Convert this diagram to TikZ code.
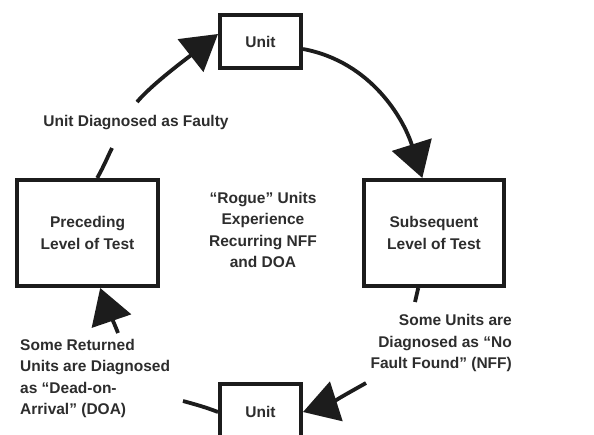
\documentclass[tikz,border=0pt]{standalone}
\usepackage{fontspec}
\setmainfont{Liberation Sans}
\usetikzlibrary{arrows.meta}
\definecolor{ink}{RGB}{28,28,28}
\definecolor{txt}{RGB}{45,45,45}
\begin{document}
\begin{tikzpicture}[x=1pt,y=-1pt,
  lab/.style={font=\bfseries\fontsize{15.5}{21.5}\selectfont, text=txt, inner sep=0pt},
  boxnode/.style={draw=ink, line width=4pt, fill=white, lab, align=center},
  link/.style={draw=ink, line width=3.8pt},
  arr/.style={link, -{Triangle[length=35pt,width=41pt]}}]
\useasboundingbox[fill=white] (0,0) rectangle (594,434);
% boxes
\node[boxnode, minimum width=81pt, minimum height=53pt] (top) at (260.5,41.5) {Unit};
\node[boxnode, minimum width=140.5pt, minimum height=106pt] (prec) at (87.5,233) {Preceding\\Level of Test};
\node[boxnode, minimum width=140pt, minimum height=106pt] (subs) at (434,233) {Subsequent\\Level of Test};
\node[boxnode, minimum width=81pt, minimum height=56pt] (bot) at (260.5,412) {Unit};
% labels
\node[lab] (faulty) at (136,123) {Unit Diagnosed as Faulty};
\node[lab, align=center] (rogue) at (263,230) {“Rogue” Units\\Experience\\Recurring NFF\\and DOA};
\node[lab, align=right, anchor=east] (nff) at (512,343) {Some Units are\\Diagnosed as “No\\Fault Found” (NFF)};
\node[lab, align=left, anchor=west] (doa) at (20,378.5) {Some Returned\\Units are Diagnosed\\as “Dead-on-\\Arrival” (DOA)};
% free ends
\coordinate (c1a) at (112,148);
\coordinate (c1b) at (137,102);
\coordinate (c3a) at (415,302);
\coordinate (c3b) at (366,383);
\coordinate (c4a) at (183,401);
\coordinate (c4b) at (118,333);
% connectors
\draw[link] (prec.80) .. controls (104,166) and (108,156) .. (c1a);
\draw[arr] (c1b) .. controls (152,84) and (190,56) .. (top.170);
\draw[arr] (top.-10) .. controls (372,62) and (404,120) .. (subs.102);
\draw[link] (subs.-106) -- (c3a);
\draw[arr] (c3b) .. controls (352,391) and (328,404) .. (bot.east);
\draw[link] (bot.west) .. controls (205,407) and (194,404) .. (c4a);
\draw[arr] (c4b) .. controls (113,320) and (106,305) .. (prec.-77);
\end{tikzpicture}
\end{document}
